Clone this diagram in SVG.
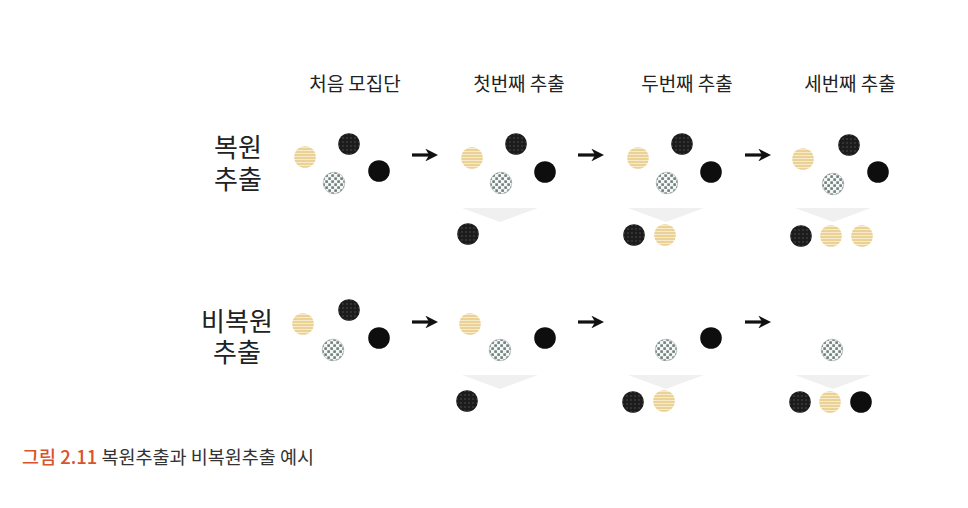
<svg xmlns="http://www.w3.org/2000/svg" xmlns:xlink="http://www.w3.org/1999/xlink" width="968" height="508" viewBox="0 0 968 508">
<style>
.hd{font-family:"Noto Sans CJK KR","Noto Sans",sans-serif;font-size:19px;fill:#222;text-anchor:middle}
.rl{font-family:"Noto Sans CJK KR","Noto Sans",sans-serif;font-size:26px;fill:#222;text-anchor:middle}
.cap{font-family:"Noto Sans CJK KR","Noto Sans",sans-serif;font-size:18.5px;fill:#333}
.capn{fill:#d9532c;font-weight:500}
.arr{stroke:#111;stroke-width:3.2;fill:none}
.fun{fill:#f0f0f0}
</style>
<defs>
<pattern id="pTan" width="3" height="3" patternUnits="userSpaceOnUse">
<rect width="3" height="3" fill="#ead196"/><rect y="2" width="3" height="1" fill="#f7ebcb"/>
</pattern>
<pattern id="pDot" width="4" height="4" patternUnits="userSpaceOnUse">
<rect width="4" height="4" fill="#1c1c1c"/><circle cx="2" cy="2" r="0.7" fill="#5a5a5a"/>
</pattern>
<pattern id="pChk" width="6" height="6" patternUnits="userSpaceOnUse">
<rect width="6" height="6" fill="#f4f7f6"/><rect x="0.3" y="0.3" width="2.6" height="2.6" fill="#6f7e7b"/><rect x="3.3" y="3.3" width="2.6" height="2.6" fill="#6f7e7b"/>
</pattern>
<circle id="tan" r="10.8" fill="url(#pTan)"/>
<circle id="dot" r="10.8" fill="url(#pDot)"/>
<circle id="chk" r="10.8" fill="url(#pChk)" stroke="#9aa6a4" stroke-width="0.6"/>
<circle id="blk" r="10.8" fill="#0e0e0e"/>
<marker id="ah" viewBox="0 0 10 10" refX="6" refY="5" markerWidth="4" markerHeight="4" orient="auto" markerUnits="strokeWidth">
<path d="M0,0 L10,5 L0,10 L3,5 Z" fill="#111"/>
</marker>
</defs>
<rect width="968" height="508" fill="#fff"/>

<g id="headers">
<text class="hd" x="355" y="91">처음 모집단</text>
<text class="hd" x="519" y="91">첫번째 추출</text>
<text class="hd" x="687" y="91">두번째 추출</text>
<text class="hd" x="850" y="91">세번째 추출</text>
</g>

<g id="label-with">
<text class="rl" x="238" y="157">복원<tspan x="238" dy="32">추출</tspan></text>
</g>
<g id="label-without">
<text class="rl" x="237" y="331">비복원<tspan x="237" dy="31">추출</tspan></text>
</g>

<g id="connectors">
<line class="arr" x1="412" y1="155" x2="433" y2="155" marker-end="url(#ah)"/>
<line class="arr" x1="578" y1="155" x2="599" y2="155" marker-end="url(#ah)"/>
<line class="arr" x1="745" y1="155" x2="766" y2="155" marker-end="url(#ah)"/>
<line class="arr" x1="412" y1="322" x2="433" y2="322" marker-end="url(#ah)"/>
<line class="arr" x1="578" y1="322" x2="599" y2="322" marker-end="url(#ah)"/>
<line class="arr" x1="745" y1="322" x2="766" y2="322" marker-end="url(#ah)"/>
</g>

<g id="r1-initial">
<use href="#tan" x="305" y="157"/><use href="#dot" x="349" y="144"/><use href="#chk" x="334" y="183"/><use href="#blk" x="379" y="171"/>
</g>
<g id="r1-first">
<use href="#tan" x="472" y="158"/><use href="#dot" x="516" y="144"/><use href="#chk" x="501" y="183"/><use href="#blk" x="545" y="172"/>
<polygon class="fun" points="462,208 538,208 500,222"/>
<use href="#dot" x="468" y="234"/>
</g>
<g id="r1-second">
<use href="#tan" x="638" y="158"/><use href="#dot" x="682" y="144"/><use href="#chk" x="667" y="183"/><use href="#blk" x="711" y="172"/>
<polygon class="fun" points="628,208 704,208 666,222"/>
<use href="#dot" x="634" y="235"/><use href="#tan" x="665" y="235"/>
</g>
<g id="r1-third">
<use href="#tan" x="803" y="159"/><use href="#dot" x="849" y="145"/><use href="#chk" x="833" y="184"/><use href="#blk" x="878" y="172"/>
<polygon class="fun" points="795,208 871,208 833,222"/>
<use href="#dot" x="801" y="236"/><use href="#tan" x="831" y="236"/><use href="#tan" x="862" y="236"/>
</g>

<g id="r2-initial">
<use href="#tan" x="303" y="324"/><use href="#dot" x="349" y="310"/><use href="#chk" x="333" y="350"/><use href="#blk" x="379" y="338"/>
</g>
<g id="r2-first">
<use href="#tan" x="470" y="324"/><use href="#chk" x="500" y="350"/><use href="#blk" x="545" y="338"/>
<polygon class="fun" points="462,375 538,375 500,389"/>
<use href="#dot" x="467" y="401"/>
</g>
<g id="r2-second">
<use href="#chk" x="666" y="350"/><use href="#blk" x="711" y="338"/>
<polygon class="fun" points="628,375 704,375 666,389"/>
<use href="#dot" x="633" y="402"/><use href="#tan" x="664" y="401"/>
</g>
<g id="r2-third">
<use href="#chk" x="832" y="350"/>
<polygon class="fun" points="795,375 871,375 833,389"/>
<use href="#dot" x="800" y="402"/><use href="#tan" x="830" y="402"/><use href="#blk" x="861" y="402"/>
</g>

<g id="caption">
<text class="cap" x="22" y="464"><tspan class="capn">그림 2.11</tspan> 복원추출과 비복원추출 예시</text>
</g>
</svg>
